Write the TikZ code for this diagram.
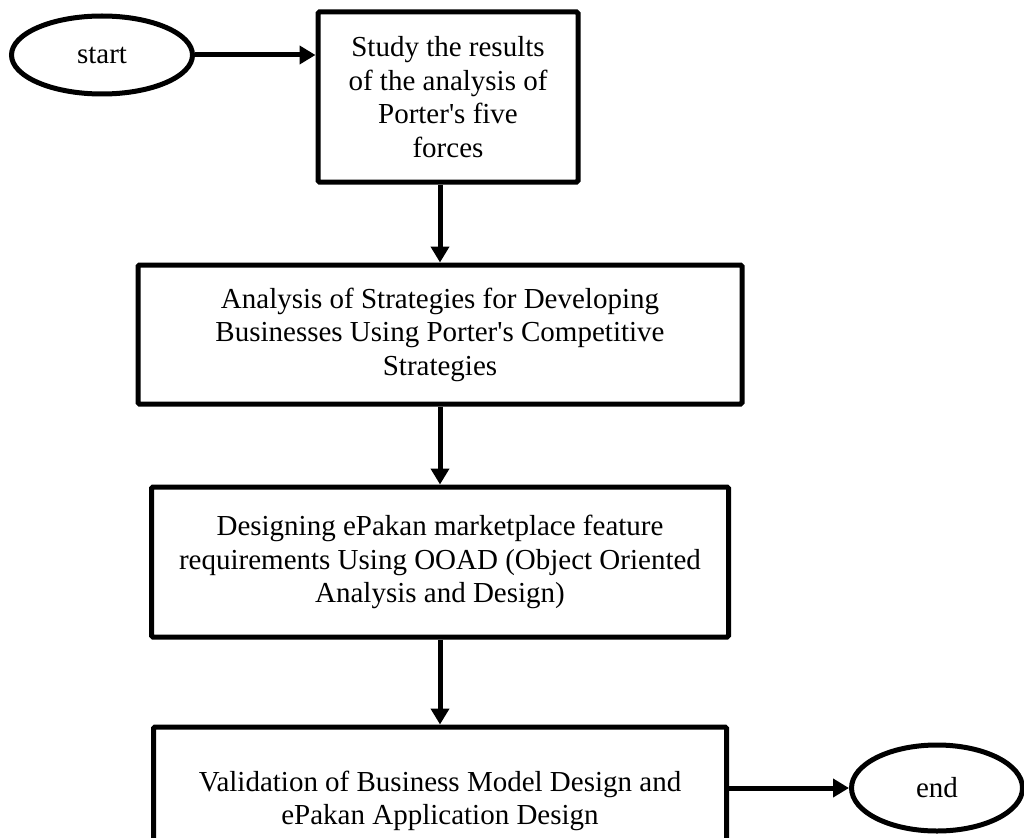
\documentclass[tikz,border=0pt]{standalone}
\usepackage{fontspec}
\setmainfont{Liberation Serif}
\usetikzlibrary{arrows.meta,shapes.geometric}
\begin{document}
\begin{tikzpicture}[x=1pt,y=-1pt,
  box/.style={draw,line width=5pt,rounded corners=1.5pt,inner sep=0pt,align=center,
    font=\fontsize{29}{33.5}\selectfont},
  term/.style={draw,ellipse,line width=5pt,inner sep=0pt,
    font=\fontsize{29}{33.5}\selectfont},
  flow/.style={line width=5pt,-{Triangle[length=16pt,width=18pt]}}]
\useasboundingbox (0,0) rectangle (1024,837);
\clip (0,0) rectangle (1024,837);
\fill[white] (0,0) rectangle (1024,837);
\node[term,minimum width=181pt,minimum height=78pt] (start) at (102,55) {start};
\node[box,minimum width=260pt,minimum height=170pt] (b1) at (448,97)
  {Study the results\\of the analysis of\\Porter\textquotesingle s five\\forces};
\node[box,minimum width=604pt,minimum height=139pt] (b2) at (440,334.5)
  {Analysis of Strategies for Developing\\Businesses Using Porter\textquotesingle s Competitive\\Strategies};
\node[box,minimum width=577pt,minimum height=150pt] (b3) at (440,562)
  {Designing ePakan marketplace feature\\requirements Using OOAD (Object Oriented\\Analysis and Design)};
\node[box,minimum width=573pt,minimum height=148pt] (b4) at (440,801)
  {Validation of Business Model Design and\\ePakan Application Design};
\node[term,minimum width=171pt,minimum height=86pt] (end) at (937,788) {end};
\draw[flow] (start.east) -- (start.east -| b1.west);
\draw[flow] (b1.south -| b2.north) -- (b2.north);
\draw[flow] (b2.south) -- (b3.north);
\draw[flow] (b3.south) -- (b4.north);
\draw[flow] (end.west -| b4.east) -- (end.west);
\end{tikzpicture}
\end{document}
